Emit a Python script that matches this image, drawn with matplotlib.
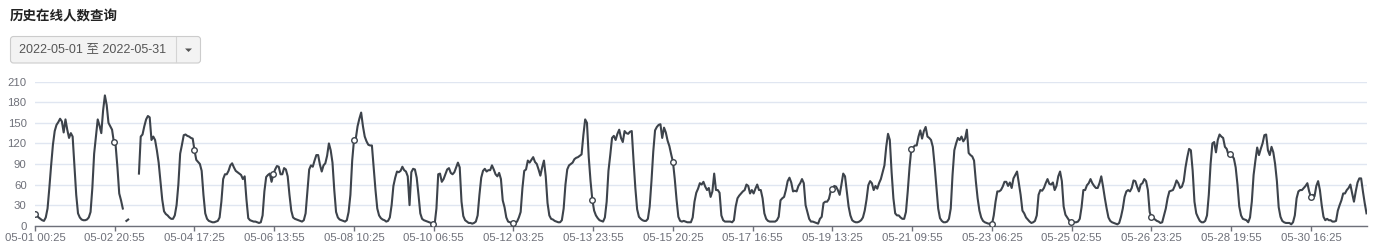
import datetime as dt
import numpy as np
import matplotlib
matplotlib.use("Agg")
import matplotlib.pyplot as plt
from matplotlib.patches import FancyBboxPatch, Polygon

plt.rcParams['font.family'] = ['Liberation Sans', 'Noto Sans CJK SC', 'DejaVu Sans']

nan = np.nan

# 每小时在线人数 (xx:25 采样), 按天
d0501 = [17, 15, 12, 10, 8, 7, 12, 25, 55, 88, 118, 138, 147, 151, 156, 152, 136, 155, 140, 128, 135, 130, 88, 45]
d0502 = [18, 12, 9, 8, 8, 9, 12, 20, 55, 105, 130, 155, 146, 135, 168, 190, 176, 150, 145, 140, 122, 117, 85, 47]
d0503 = [37, 25, nan, 7, 9, nan, nan, nan, nan, nan, 76, 130, 133, 145, 155, 160, 158, 125, 130, 125, 110, 92, 65, 38]
d0504 = [21, 17, 15, 12, 10, 10, 15, 30, 60, 105, 118, 132, 133, 131, 130, 128, 127, 110, 96, 93, 90, 80, 45, 18]
d0505 = [10, 7, 6, 5, 5, 6, 7, 12, 35, 68, 75, 75, 80, 88, 91, 85, 80, 78, 76, 74, 68, 72, 38, 11]
d0506 = [8, 7, 6, 6, 5, 4, 5, 15, 50, 71, 74, 76, 64, 75, 82, 87, 86, 75, 75, 84, 82, 72, 45, 22]
d0507 = [12, 10, 9, 8, 7, 6, 8, 18, 50, 82, 88, 86, 95, 103, 103, 89, 79, 88, 91, 102, 120, 110, 92, 52]
d0508 = [20, 12, 9, 8, 7, 6, 8, 20, 45, 95, 125, 127, 145, 156, 165, 145, 130, 123, 118, 117, 117, 85, 52, 25]
d0509 = [15, 11, 9, 8, 6, 7, 12, 30, 58, 70, 79, 78, 80, 86, 81, 79, 72, 30, 78, 83, 82, 70, 45, 18]
d0510 = [10, 8, 7, 6, 5, 4, 3, 2, 25, 75, 76, 64, 68, 75, 82, 84, 77, 75, 78, 85, 92, 85, 35, 14]
d0511 = [8, 6, 4, 4, 3, 4, 6, 15, 45, 70, 80, 83, 79, 81, 81, 88, 82, 75, 72, 77, 68, 37, 27, 12]
d0512 = [6, 5, 4, 4, 4, 6, 12, 20, 55, 80, 82, 95, 92, 96, 100, 93, 90, 82, 73, 85, 95, 72, 33, 15]
d0513 = [10, 9, 7, 6, 5, 5, 8, 25, 60, 82, 88, 90, 92, 97, 99, 100, 102, 104, 132, 155, 150, 100, 65, 38]
d0514 = [22, 15, 11, 8, 7, 6, 12, 35, 80, 103, 128, 131, 125, 134, 140, 128, 122, 138, 135, 134, 137, 138, 95, 55]
d0515 = [24, 13, 10, 8, 7, 7, 10, 28, 65, 108, 139, 144, 147, 148, 128, 143, 136, 124, 116, 104, 93, 68, 38, 13]
d0516 = [7, 6, 7, 6, 5, 5, 5, 12, 35, 48, 54, 62, 60, 64, 57, 52, 55, 42, 50, 76, 52, 52, 48, 15]
d0517 = [8, 6, 6, 6, 6, 5, 8, 28, 40, 44, 47, 50, 52, 60, 58, 47, 52, 47, 54, 60, 52, 52, 40, 18]
d0518 = [10, 7, 6, 6, 6, 6, 8, 13, 37, 40, 42, 52, 65, 70, 63, 50, 51, 50, 58, 62, 68, 62, 30, 20]
d0519 = [10, 6, 6, 5, 4, 3, 10, 13, 33, 35, 35, 39, 50, 54, 58, 57, 52, 45, 60, 76, 72, 50, 28, 15]
d0520 = [8, 6, 5, 5, 6, 8, 12, 22, 38, 59, 65, 62, 52, 58, 54, 62, 68, 78, 88, 115, 134, 125, 78, 40]
d0521 = [18, 15, 15, 12, 10, 10, 20, 50, 85, 112, 114, 117, 117, 130, 139, 127, 138, 144, 130, 128, 125, 115, 88, 57]
d0522 = [25, 11, 7, 5, 5, 6, 10, 25, 74, 110, 120, 128, 125, 130, 123, 127, 140, 106, 103, 101, 95, 65, 40, 22]
d0523 = [12, 7, 5, 4, 3, 3, 2, 15, 35, 50, 50, 52, 57, 64, 64, 58, 63, 55, 69, 74, 79, 62, 45, 22]
d0524 = [18, 12, 9, 6, 4, 5, 7, 15, 45, 52, 51, 55, 62, 68, 61, 60, 63, 52, 58, 72, 79, 65, 28, 16]
d0525 = [12, 8, 5, 5, 5, 5, 6, 10, 27, 52, 52, 59, 62, 68, 62, 58, 55, 55, 62, 72, 57, 40, 25, 12]
d0526 = [7, 5, 4, 3, 2, 4, 13, 25, 42, 50, 52, 50, 55, 66, 65, 57, 50, 60, 62, 68, 65, 52, 20, 12]
d0527 = [11, 9, 7, 6, 4, 5, 15, 25, 40, 50, 51, 52, 58, 66, 62, 55, 57, 65, 85, 100, 112, 110, 80, 35]
d0528 = [18, 12, 7, 5, 5, 7, 15, 45, 90, 120, 122, 107, 125, 133, 130, 128, 115, 112, 103, 104, 102, 98, 85, 60]
d0529 = [28, 15, 10, 9, 8, 5, 12, 35, 74, 95, 114, 103, 112, 120, 132, 133, 110, 103, 115, 107, 90, 65, 27, 13]
d0530 = [7, 5, 4, 4, 4, 2, 5, 15, 40, 50, 52, 52, 55, 58, 62, 50, 42, 45, 43, 58, 65, 52, 30, 13]
d0531 = [8, 10, 8, 8, 6, 6, 7, 22, 30, 37, 47, 47, 52, 55, 60, 47, 35, 50, 63, 69, 69, 50, 33, 18]

days = [d0501, d0502, d0503, d0504, d0505, d0506, d0507, d0508, d0509, d0510,
        d0511, d0512, d0513, d0514, d0515, d0516, d0517, d0518, d0519, d0520,
        d0521, d0522, d0523, d0524, d0525, d0526, d0527, d0528, d0529, d0530, d0531]
online = np.array(sum(days, []), dtype=float)

start = dt.datetime(2022, 5, 1, 0, 25)
date_from = "2022-05-01"
date_to = "2022-05-31"
label_step = 44.5  # 小时
y_ticks = list(range(0, 211, 30))
no_symbol = ["05-17 16:55"]

hours = np.arange(len(online))
tick_pos = np.arange(0, len(online), label_step)
tick_labels = [(start + dt.timedelta(hours=float(t))).strftime("%m-%d %H:%M") for t in tick_pos]
marker_idx = [int(t) for t, lab in zip(tick_pos, tick_labels)
              if lab not in no_symbol and not np.isnan(online[int(t)])]

W, H = 1383, 247
fig = plt.figure(figsize=(W / 100, H / 100), dpi=100)
ax = fig.add_axes([35 / W, (H - 225.7) / H, (1366.5 - 35) / W, 144 / H])

line_color = "#3d434b"
ax.plot(hours, online, color=line_color, lw=1.5, marker="o", markevery=marker_idx,
        ms=4, mfc="white", mec=line_color, mew=1, zorder=3)

ax.set_xlim(0, len(online) - 1)
ax.set_ylim(0, 210)
ax.set_yticks(y_ticks)
ax.set_xticks(tick_pos, tick_labels)
ax.yaxis.grid(True, color="#E0E6F1", lw=1)
ax.set_axisbelow(True)
for s in ["top", "right", "left"]:
    ax.spines[s].set_visible(False)
ax.spines["bottom"].set_color("#6E7079")
ax.spines["bottom"].set_linewidth(1)
ax.tick_params(axis="y", length=0, pad=6, labelsize=8.2, labelcolor="#6E7079")
ax.tick_params(axis="x", length=3.6, width=1, color="#6E7079", pad=1.5,
               labelsize=8.2, labelcolor="#6E7079")

# 标题和日期选择框
ov = fig.add_axes([0, 0, 1, 1])
ov.set_xlim(0, W)
ov.set_ylim(H, 0)
ov.axis("off")

ov.text(10, 16.5, "历史在线人数查询", fontsize=9.7, fontweight="bold", color="#222222",
        va="center", ha="left", family=["Noto Sans CJK SC"])

box = FancyBboxPatch((10.5, 36.5), 190, 26.5, boxstyle="round,pad=0,rounding_size=3",
                     fc="#f3f3f3", ec="#cccccc", lw=0.8)
ov.add_patch(box)
ov.plot([176, 176], [37, 62.5], color="#d4d4d4", lw=0.8)
ov.add_patch(Polygon([[185, 48.5], [192, 48.5], [188.5, 52]], closed=True, fc="#555555", ec="none"))
ov.text(19, 49.5, date_from + " 至 " + date_to, fontsize=9, color="#555555",
        va="center", ha="left")

fig.savefig("out.png", dpi=100)
